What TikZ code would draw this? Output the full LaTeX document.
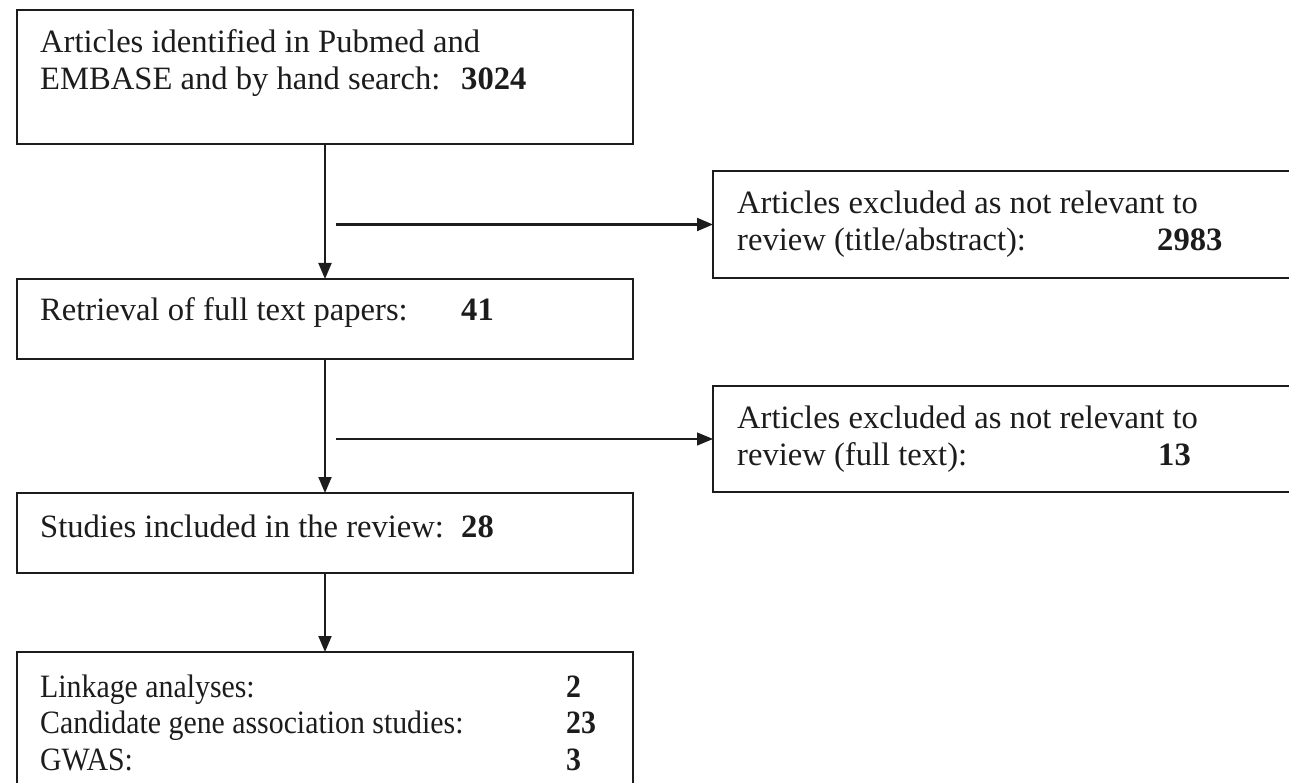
\documentclass[tikz,border=0pt]{standalone}
\usepackage{fontspec}
\setmainfont{Liberation Serif}
\newfontfamily\narrowserif{Liberation Serif}[FakeStretch=0.915]
\usepackage{tikz}
\usetikzlibrary{positioning, arrows.meta}
\definecolor{ink}{HTML}{1C1C1C}
\tikzset{
  flow box/.style={
    draw=ink,
    line width=2.2pt,
    rectangle,
    inner sep=0pt,
    outer sep=0pt,
    minimum width=616pt,
    minimum height=80pt
  },
  excl box/.style={
    flow box,
    minimum width=640pt,
    minimum height=107pt
  },
  box text/.style={
    anchor=north west,
    inner sep=0pt,
    align=left,
    text=ink,
    font=\fontsize{32.6}{37}\selectfont
  },
  list text/.style={
    box text,
    font=\narrowserif\fontsize{32.6}{36.5}\selectfont
  },
  flow arrow/.style={
    -{Triangle[length=16pt, width=13pt]},
    line width=1.9pt,
    color=ink
  }
}
\newcommand{\padto}[2]{\makebox[#1][l]{#2}}

\begin{document}
\begin{tikzpicture}[node distance=135pt]
  \clip (0,0) rectangle (1289pt,-783pt);
  % boxes of the main flow
  \node[flow box, anchor=north west, minimum height=134pt] (ident) at (17pt,-10pt) {};
  \node[flow box, below=of ident] (retr) {};
  \node[flow box, below=134pt of retr] (incl) {};
  \node[flow box, below=79pt of incl, minimum height=170pt] (types) {};
  % exclusion boxes
  \node[excl box, below right=27pt and 80pt of ident] (excl1) {};
  \node[excl box, below right=27pt and 80pt of retr, minimum height=106pt] (excl2) {};

  \node[box text] (ident-t) at ([shift={(23pt,-16pt)}]ident.north west)
    {\strut Articles identified in Pubmed and\\
     \padto{421pt}{EMBASE and by hand search:}\textbf{3024}};
  \node[box text] (retr-t) at ([shift={(23pt,-15pt)}]retr.north west)
    {\strut\padto{421pt}{Retrieval of full text papers:}\textbf{41}};
  \node[box text] (incl-t) at ([shift={(23pt,-18pt)}]incl.north west)
    {\strut\padto{421pt}{Studies included in the review:}\textbf{28}};
  \node[list text] (types-t) at ([shift={(23pt,-19.5pt)}]types.north west)
    {\strut\padto{526pt}{Linkage analyses:}\textbf{2}\\
     \padto{526pt}{Candidate gene association studies:}\textbf{23}\\
     \padto{526pt}{GWAS:}\textbf{3}};
  \node[box text] (excl1-t) at ([shift={(24pt,-16pt)}]excl1.north west)
    {\strut Articles excluded as not relevant to\\
     \padto{420pt}{review (title/abstract):}\textbf{2983}};
  \node[box text] (excl2-t) at ([shift={(24pt,-16pt)}]excl2.north west)
    {\strut Articles excluded as not relevant to\\
     \padto{421pt}{review (full text):}\textbf{13}};

  \draw[flow arrow] (ident) -- (retr);
  \draw[flow arrow] (retr) -- (incl);
  \draw[flow arrow] (incl) -- (types);
  \draw[flow arrow, line width=2.2pt] ([xshift=11pt]ident.south |- excl1.west) -- (excl1.west);
  \draw[flow arrow, line width=1.2pt] ([xshift=11pt]retr.south |- excl2.west) -- (excl2.west);
\end{tikzpicture}
\end{document}
